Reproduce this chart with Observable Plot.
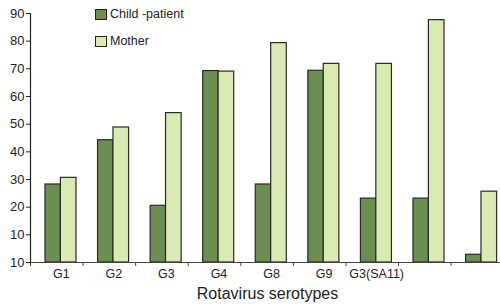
<!DOCTYPE html>
<html>
<head>
<meta charset="utf-8">
<script src="https://cdn.jsdelivr.net/npm/d3@7"></script>
<script src="https://cdn.jsdelivr.net/npm/@observablehq/plot@0.6"></script>
<style>
  html, body { margin: 0; padding: 0; background: #fff; }
  #wrap { position: relative; width: 500px; height: 304px; font-family: "Liberation Sans", Arial, sans-serif; }
  .legend { position: absolute; left: 95px; font-size: 12.5px; color: #222; display: flex; align-items: center; }
  .sw { width: 10px; height: 9px; border: 1px solid #222; margin-right: 3px; }
</style>
</head>
<body>
<div id="wrap"></div>
<script>
const categories = ["G1", "G2", "G3", "G4", "G8", "G9", "G3(SA11)", "", ""];
const childPatient = [28.2, 44.2, 20.5, 69.2, 28.2, 69.3, 23.1, 23.1, 2.8];
const mother = [30.6, 48.8, 54.0, 69.0, 79.3, 71.8, 71.8, 87.6, 25.6];
const yTicks = [0, 10, 20, 30, 40, 50, 60, 70, 80, 90];
const yTickLabels = ["10", "10", "20", "30", "40", "50", "60", "70", "80", "90"];
const seriesNames = ["Child -patient", "Mother"];
const colors = ["#6b8f50", "#d9eab2"];

const data = categories.map((c, i) => ({ i, cat: c, child: childPatient[i], mother: mother[i] }));

const chart = Plot.plot({
  width: 500,
  height: 304,
  marginLeft: 30,
  marginRight: 0,
  marginTop: 13,
  marginBottom: 42,
  style: { fontFamily: "'Liberation Sans', Arial, sans-serif", color: "#222", background: "#fff" },
  x: { type: "linear", domain: [0, 8.94] },
  y: { domain: [0, 90] },
  marks: [
    Plot.rectY(data, { x1: d => d.i + 0.285, x2: d => d.i + 0.578, y1: 0, y2: "child", fill: colors[0], stroke: "#2a2a2a", strokeWidth: 1.2 }),
    Plot.rectY(data, { x1: d => d.i + 0.578, x2: d => d.i + 0.875, y1: 0, y2: "mother", fill: colors[1], stroke: "#2a2a2a", strokeWidth: 1.2 }),
    Plot.ruleX([0], { stroke: "#222", strokeWidth: 1.2 }),
    Plot.ruleY([0], { stroke: "#444", strokeWidth: 1.2 }),
    Plot.axisY({ ticks: yTicks, tickFormat: (d, k) => yTickLabels[k], tickSize: 4, tickPadding: 2, fontSize: 13, label: null, stroke: "#222" }),
    Plot.axisX({ ticks: d3.range(0, 9), tickFormat: () => "", tickSize: 4, label: null, stroke: "#444" }),
    Plot.axisX({ ticks: data.map(d => d.i + 0.585), tickFormat: (d, k) => categories[k], tickSize: 0, tickPadding: 7, fontSize: 12.5, label: null }),
    Plot.text(["Rotavirus serotypes"], { frameAnchor: "bottom", dy: 36, fontSize: 16, dx: 2 })
  ]
});

const wrap = document.getElementById("wrap");
wrap.appendChild(chart);
seriesNames.forEach((n, k) => {
  const el = document.createElement("div");
  el.className = "legend";
  el.style.top = (k === 0 ? 7 : 34) + "px";
  el.innerHTML = `<span class="sw" style="background:${colors[k]}"></span>${n}`;
  wrap.appendChild(el);
});
</script>
</body>
</html>
